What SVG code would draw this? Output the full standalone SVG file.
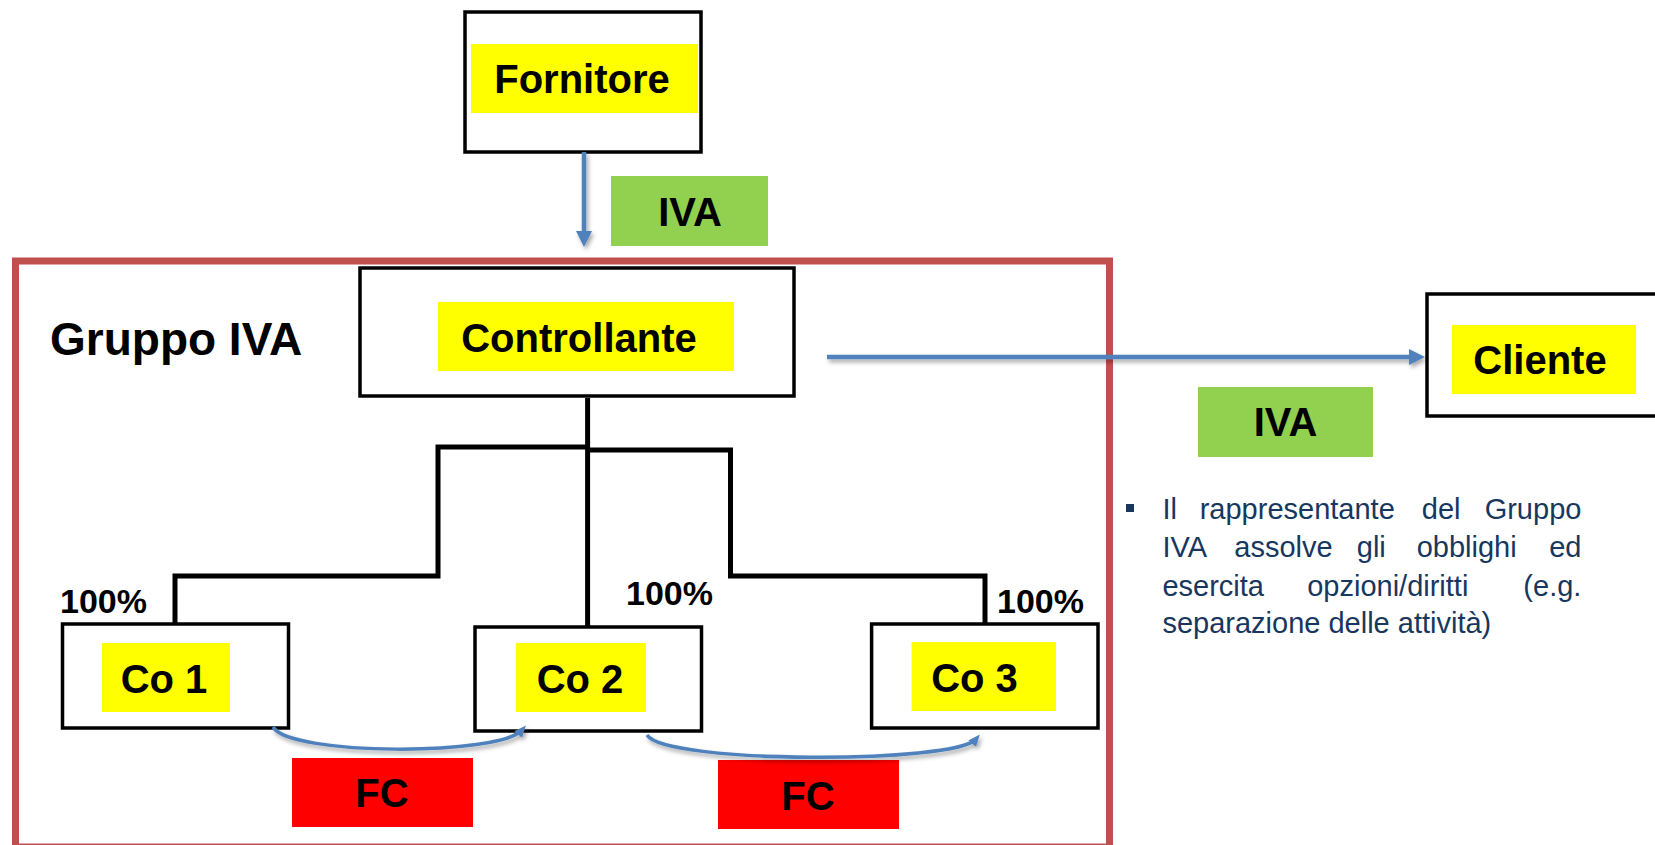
<svg xmlns="http://www.w3.org/2000/svg" width="1655" height="845" viewBox="0 0 1655 845">
<defs>
<style>
.box{fill:#fff;stroke:#000;stroke-width:3.5}
.yel{fill:#FFFF00}
.grn{fill:#92D050}
.red{fill:#FF0000}
.lbl{font-family:"Liberation Sans",Arial,sans-serif;font-weight:bold;font-size:40px;fill:#000;text-anchor:middle}
.pct{font-family:"Liberation Sans",Arial,sans-serif;font-weight:bold;font-size:34px;fill:#000}
.tree{fill:none;stroke:#000;stroke-width:5}
.arr{fill:none;stroke:#4F81BD;stroke-width:4.5}
.carr{fill:none;stroke:#4F81BD;stroke-width:3.5}
.para{font-family:"Liberation Sans",Arial,sans-serif;font-size:29px;fill:#17375E}
</style>
<filter id="sh" filterUnits="userSpaceOnUse" x="0" y="0" width="1655" height="845">
<feDropShadow dx="2" dy="3" stdDeviation="2" flood-color="#000" flood-opacity="0.35"/>
</filter>
<marker id="ah" markerUnits="userSpaceOnUse" markerWidth="16" markerHeight="16" viewBox="0 0 16 16" refX="5" refY="8" orient="auto">
<path d="M0 0 L16 8 L0 16 z" fill="#4F81BD"/>
</marker>
<marker id="ahs" markerUnits="userSpaceOnUse" markerWidth="12" markerHeight="10" viewBox="0 0 12 10" refX="6" refY="5" orient="auto">
<path d="M0 0 L12 5 L0 10 z" fill="#4F81BD"/>
</marker>
</defs>
<rect width="1655" height="845" fill="#fff"/>

<g id="gruppo-iva">
<rect x="15.5" y="261" width="1094" height="586" fill="none" stroke="#C0504D" stroke-width="7"/>
<text x="50" y="355" font-family="'Liberation Sans',Arial,sans-serif" font-weight="bold" font-size="46" fill="#000">Gruppo IVA</text>
</g>

<g id="fornitore">
<rect class="box" x="465" y="12" width="236" height="140"/>
<rect class="yel" x="471" y="44" width="227" height="69"/>
<text class="lbl" x="582" y="93">Fornitore</text>
</g>

<g id="iva-1">
<rect class="grn" x="611" y="176" width="157" height="70"/>
<text class="lbl" x="690" y="226">IVA</text>
</g>

<g id="controllante">
<rect class="box" x="360" y="268" width="434" height="128"/>
<rect class="yel" x="438" y="302" width="296" height="69"/>
<text class="lbl" x="579" y="352">Controllante</text>
</g>

<g id="cliente">
<rect class="box" x="1427" y="294" width="260" height="122"/>
<rect class="yel" x="1452" y="325" width="184" height="69"/>
<text class="lbl" x="1540" y="374">Cliente</text>
</g>

<g id="iva-2">
<rect class="grn" x="1198" y="387" width="175" height="70"/>
<text class="lbl" x="1285.5" y="436">IVA</text>
</g>

<g id="co1">
<rect class="box" x="62.5" y="624" width="226" height="104"/>
<rect class="yel" x="102" y="643" width="128" height="69"/>
<text class="lbl" x="164" y="693">Co 1</text>
</g>

<g id="co2">
<rect class="box" x="475" y="627" width="226.5" height="104"/>
<rect class="yel" x="516" y="643" width="130" height="69"/>
<text class="lbl" x="580" y="693">Co 2</text>
</g>

<g id="co3">
<rect class="box" x="871.6" y="624" width="226.4" height="104"/>
<rect class="yel" x="911.6" y="642" width="144.4" height="69"/>
<text class="lbl" x="974.5" y="692">Co 3</text>
</g>

<g id="fc-1">
<rect class="red" x="292" y="758" width="181" height="69"/>
<text class="lbl" x="382" y="807">FC</text>
</g>

<g id="fc-2">
<rect class="red" x="718" y="760" width="181" height="69"/>
<text class="lbl" x="808" y="810">FC</text>
</g>

<g id="percentages">
<text class="pct" x="60" y="613">100%</text>
<text class="pct" x="626" y="605">100%</text>
<text class="pct" x="997" y="613">100%</text>
</g>

<g id="connectors">
<path class="tree" d="M587.6 398 V627"/>
<path class="tree" d="M587.6 447 H438 V576 H175 V624"/>
<path class="tree" d="M587.6 450 H730.5 V576 H985 V624"/>
<path class="arr" filter="url(#sh)" d="M584 152 V236" marker-end="url(#ah)"/>
<path class="arr" filter="url(#sh)" d="M827 357 H1414" marker-end="url(#ah)"/>
<path class="carr" filter="url(#sh)" d="M273 727 C290 756, 500 756, 522 730" marker-end="url(#ahs)"/>
<path class="carr" filter="url(#sh)" d="M647 735 C665 764, 955 764, 976 739" marker-end="url(#ahs)"/>
</g>

<g id="note">
<rect x="1126" y="504" width="8" height="8" fill="#17375E"/>
<text class="para" y="519"><tspan x="1162.4">Il</tspan><tspan x="1199.7">rappresentante</tspan><tspan x="1421.8">del</tspan></text>
<text class="para" x="1581.4" y="519" text-anchor="end">Gruppo</text>
<text class="para" y="557"><tspan x="1162.4">IVA</tspan><tspan x="1234.3">assolve</tspan><tspan x="1356.8">gli</tspan><tspan x="1416.7">obblighi</tspan></text>
<text class="para" x="1581.4" y="557" text-anchor="end">ed</text>
<text class="para" y="596"><tspan x="1162.4">esercita</tspan><tspan x="1307.2">opzioni/diritti</tspan></text>
<text class="para" x="1581.4" y="596" text-anchor="end">(e.g.</text>
<text class="para" x="1162.4" y="633">separazione delle attività)</text>
</g>
</svg>
